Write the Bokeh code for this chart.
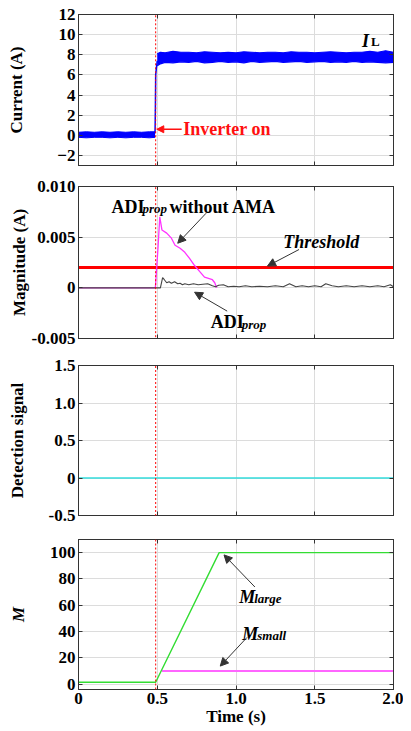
from bokeh.plotting import figure
from bokeh.layouts import column
from bokeh.models import Range1d, FixedTicker, LinearAxis, Label, Arrow, NormalHead
from bokeh.embed import file_html
from bokeh.resources import INLINE

FONT = "Liberation Serif"

# ---------------- data ----------------
x_ticks = [0, 0.5, 1.0, 1.5, 2.0]
x_tick_labels = ["0", "0.5", "1.0", "1.5", "2.0"]
t_on = 0.49

# Panel 1: inductor current I_L (noise band envelope)
il_pre_t = [0.0, 0.05, 0.1, 0.15, 0.2, 0.25, 0.3, 0.35, 0.4, 0.45, 0.486]
il_pre_hi = [0.3, 0.35, 0.3, 0.35, 0.3, 0.35, 0.3, 0.35, 0.3, 0.35, 0.35]
il_pre_lo = [-0.2, -0.25, -0.2, -0.2, -0.25, -0.2, -0.25, -0.2, -0.2, -0.25, -0.2]
il_jump_t = [0.486, 0.488, 0.49, 0.494, 0.5]
il_jump_v = [0.2, 2.5, 6.0, 6.6, 7.4]
il_post_t = [0.5, 0.52, 0.55, 0.6, 0.65, 0.7, 0.75, 0.8, 0.85, 0.9, 0.95, 1.0, 1.05, 1.1,
             1.15, 1.2, 1.25, 1.3, 1.35, 1.4, 1.45, 1.5, 1.55, 1.6, 1.65, 1.7, 1.75, 1.8,
             1.85, 1.9, 1.95, 2.0]
il_post_hi = [8.1, 8.25, 8.2, 8.35, 8.25, 8.25, 8.2, 8.3, 8.25, 8.2, 8.25, 8.2, 8.3, 8.25,
              8.2, 8.25, 8.25, 8.2, 8.3, 8.25, 8.25, 8.2, 8.25, 8.3, 8.25, 8.2, 8.25, 8.25,
              8.35, 8.25, 8.4, 8.25]
il_post_lo = [6.9, 7.1, 7.25, 7.2, 7.3, 7.25, 7.35, 7.2, 7.25, 7.35, 7.25, 7.3, 7.2, 7.35,
              7.25, 7.3, 7.35, 7.25, 7.3, 7.35, 7.25, 7.3, 7.35, 7.25, 7.3, 7.25, 7.35, 7.25,
              7.3, 7.25, 7.2, 7.25]

# Panel 2: ADI magnitudes
adi_ama_t = [0.0, 0.488, 0.505, 0.516, 0.53, 0.56, 0.59, 0.613, 0.645, 0.675, 0.705,
             0.737, 0.77, 0.80, 0.83, 0.85, 0.865, 0.877]
adi_ama_v = [0.0, 0.0, 0.004, 0.007, 0.0057, 0.0054, 0.0049, 0.0042, 0.0039, 0.0035,
             0.0029, 0.0022, 0.0016, 0.00105, 0.0009, 0.0008, 0.0005, 0.0]
adi_prop_t = [0.0, 0.52, 0.534, 0.545, 0.56, 0.575, 0.59, 0.61, 0.63, 0.645, 0.66,
              0.675, 0.70, 0.73, 0.76, 0.79, 0.82, 0.85, 0.87, 0.89, 0.92, 0.95, 0.985,
              1.02, 1.06, 1.10, 1.15, 1.2, 1.25, 1.3, 1.34, 1.38, 1.42, 1.46, 1.5, 1.54,
              1.57, 1.61, 1.65, 1.7, 1.75, 1.8, 1.85, 1.9, 1.94, 1.98, 2.0]
adi_prop_v = [0.0, 0.0, 0.001, 0.0008, 0.0005, 0.0006, 0.00045, 0.0006, 0.0004, 0.00045,
              0.0003, 0.0004, 0.0003, 0.0004, 0.0003, 0.00035, 0.0004, 0.0002, 0.0001,
              0.00025, 0.0003, 0.0001, 0.00015, 0.0001, 0.0002, 0.0001, 0.00015, 0.0001,
              0.0002, 0.0001, 0.0004, 0.0001, 0.0002, 0.0001, 0.0002, 0.0001, 0.0004,
              0.0002, 0.0001, 0.0002, 0.0001, 0.0002, 0.0001, 0.0002, 0.0001, 0.0003, 0.0001]
threshold = 0.002

# Panel 3: detection signal
det_t = [0.0, 2.0]
det_v = [0.0, 0.0]

# Panel 4: M
m_large_t = [0.0, 0.49, 0.893, 2.0]
m_large_v = [1.5, 1.5, 100.0, 100.0]
m_small_t = [0.53, 2.0]
m_small_v = [10.0, 10.0]

p1_ticks = [-2, 0, 2, 4, 6, 8, 10, 12]
p2_ticks = [-0.005, 0, 0.005, 0.01]
p2_labels = ["-0.005", "0", "0.005", "0.010"]
p3_ticks = [-0.5, 0, 0.5, 1.0, 1.5]
p3_labels = ["-0.5", "0", "0.5", "1.0", "1.5"]
p4_ticks = [0, 20, 40, 60, 80, 100]

W = 403
AX = "#333333"
GRID = "#dcdcdc"


def style_axis(ax, size="17px"):
    ax.axis_line_color = AX
    ax.major_tick_line_color = AX
    ax.minor_tick_line_color = None
    ax.major_tick_in = 4
    ax.major_tick_out = 0
    ax.major_label_text_font = FONT
    ax.major_label_text_font_style = "bold"
    ax.major_label_text_font_size = size
    ax.major_label_text_color = "black"
    ax.major_label_standoff = 3


def hide_labels(ax):
    ax.major_label_text_font_size = "1px"
    ax.major_label_text_color = None
    ax.major_label_standoff = 0


def make_fig(h, top, bottom, yr, yticks, ylabels, ylabel, lab_standoff, show_x,
             italic=False):
    p = figure(width=W, height=h, x_range=Range1d(0, 2.0), y_range=Range1d(*yr),
               output_backend="svg", toolbar_location=None,
               min_border_left=78, min_border_right=10,
               min_border_top=top, min_border_bottom=bottom)
    p.background_fill_color = "white"
    p.border_fill_color = "white"
    p.outline_line_color = AX
    p.xaxis.ticker = FixedTicker(ticks=x_ticks)
    p.xaxis.major_label_overrides = {t: l for t, l in zip(x_ticks, x_tick_labels)}
    p.yaxis.ticker = FixedTicker(ticks=yticks)
    if ylabels is not None:
        p.yaxis.major_label_overrides = {t: l for t, l in zip(yticks, ylabels)}
    style_axis(p.xaxis[0])
    style_axis(p.yaxis[0])
    if not show_x:
        hide_labels(p.xaxis[0])
    else:
        p.xaxis.axis_label = "Time (s)"
        p.xaxis.axis_label_text_font = FONT
        p.xaxis.axis_label_text_font_style = "bold"
        p.xaxis.axis_label_text_font_size = "17px"
        p.xaxis.axis_label_text_color = "black"
        p.xaxis.axis_label_standoff = 0
    p.yaxis.axis_label = ylabel
    p.yaxis.axis_label_text_font = FONT
    p.yaxis.axis_label_text_font_style = "bold italic" if italic else "bold"
    p.yaxis.axis_label_text_font_size = "17px"
    p.yaxis.axis_label_text_color = "black"
    p.yaxis.axis_label_standoff = lab_standoff
    # box ticks on top and right (MATLAB style), labels hidden
    top_ax = LinearAxis(ticker=FixedTicker(ticks=x_ticks))
    right_ax = LinearAxis(ticker=FixedTicker(ticks=yticks))
    for ax in (top_ax, right_ax):
        style_axis(ax)
        hide_labels(ax)
    p.add_layout(top_ax, "above")
    p.add_layout(right_ax, "right")
    p.xgrid.ticker = FixedTicker(ticks=x_ticks)
    p.ygrid.ticker = FixedTicker(ticks=yticks)
    p.xgrid.grid_line_color = GRID
    p.ygrid.grid_line_color = GRID
    return p


def red_line(p, y0, y1):
    p.add_layout(Arrow(start=None, end=None, x_start=t_on, y_start=y0, x_end=t_on,
                       y_end=y1, line_color="#ff0000", line_width=1,
                       line_dash="2 2"))


def label(p, x, y, text, size="18px", style="bold", color="black", xoff=0,
          baseline="alphabetic"):
    p.add_layout(Label(x=x, y=y, text=text, x_offset=xoff, text_font=FONT,
                       text_font_style=style, text_font_size=size, text_color=color,
                       text_baseline=baseline, text_align="left"))


def arrow(p, x0, y0, x1, y1, color="#333333", size=8, width=1.0):
    p.add_layout(Arrow(end=NormalHead(size=size, fill_color=color, line_color=color),
                       x_start=x0, y_start=y0, x_end=x1, y_end=y1,
                       line_color=color, line_width=width))


# ---------------- panel 1 ----------------
f1 = make_fig(175, 14, 10, (-3, 12), p1_ticks, None, "Current (A)", 28, False)
f1.varea(x=il_pre_t, y1=il_pre_lo, y2=il_pre_hi, fill_color="#0000ff")
f1.line(il_pre_t, il_pre_lo, line_color="#0000ff", line_width=1)
f1.line(il_pre_t, il_pre_hi, line_color="#0000ff", line_width=1)
f1.line(il_jump_t, il_jump_v, line_color="#0000ff", line_width=1.5)
f1.varea(x=il_post_t, y1=il_post_lo, y2=il_post_hi, fill_color="#0000ff")
f1.line(il_post_t, il_post_lo, line_color="#0000ff", line_width=1.2)
f1.line(il_post_t, il_post_hi, line_color="#0000ff", line_width=1.2)
red_line(f1, -30, 12)
label(f1, 1.80, 9.4, "I", style="bold italic")
label(f1, 1.80, 9.3, "L", size="13px", xoff=9)
label(f1, 0.665, 0.6, "Inverter on", color="#ff1010", baseline="middle")
arrow(f1, 0.655, 0.6, 0.497, 0.6, color="#ff1010", size=7, width=1.5)

# ---------------- panel 2 ----------------
f2 = make_fig(177, 11, 14, (-0.005, 0.010), p2_ticks, p2_labels, "Magnitude (A)", 0,
              False)
f2.line([0, 2.0], [threshold, threshold], line_color="#ff0000", line_width=3)
f2.line(adi_ama_t, adi_ama_v, line_color="#ff33ff", line_width=1.3)
f2.line(adi_prop_t, adi_prop_v, line_color="#444444", line_width=1.1)
red_line(f2, -1, 1)
label(f2, 0.209, 0.0080, "ADI")
label(f2, 0.209, 0.0078, "prop", size="13px", style="bold italic", xoff=31)
label(f2, 0.209, 0.0080, "without AMA", xoff=58)
arrow(f2, 0.81, 0.00736, 0.63, 0.0044)
label(f2, 1.30, 0.00457, "Threshold", style="bold italic")
arrow(f2, 1.40, 0.00378, 1.20, 0.00215)
label(f2, 0.84, -0.0034, "ADI")
label(f2, 0.84, -0.0036, "prop", size="13px", style="bold italic", xoff=31)
arrow(f2, 0.944, -0.0023, 0.737, -0.00043)

# ---------------- panel 3 ----------------
f3 = make_fig(174, 13, 11, (-0.5, 1.5), p3_ticks, p3_labels, "Detection signal", 19,
              False)
f3.line(det_t, det_v, line_color="#33dddd", line_width=1.3)
red_line(f3, -10, 10)

# ---------------- panel 4 ----------------
f4 = make_fig(202, 13, 38, (-4, 110), p4_ticks, None, "M", 19, True, italic=True)
f4.line(m_small_t, m_small_v, line_color="#ff66ff", line_width=2)
f4.line(m_large_t, m_large_v, line_color="#33dd33", line_width=1.4)
red_line(f4, -4, 1000)
label(f4, 1.02, 66.4, "M", style="bold italic")
label(f4, 1.02, 65.2, "large", size="13px", style="bold italic", xoff=15)
arrow(f4, 1.12, 73.9, 0.924, 98.3)
label(f4, 1.04, 38.3, "M", style="bold italic")
label(f4, 1.04, 37.4, "small", size="13px", style="bold italic", xoff=15)
arrow(f4, 1.07, 35.6, 0.90, 13.8)

layout = column(f1, f2, f3, f4, spacing=0)
open("out.html", "w").write(file_html(layout, INLINE))
